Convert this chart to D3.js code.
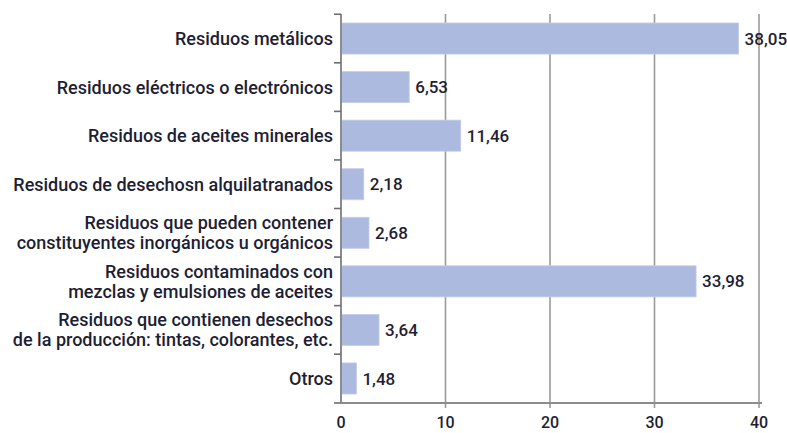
<!DOCTYPE html>
<html>
<head>
<meta charset="utf-8">
<script src="https://cdn.jsdelivr.net/npm/d3@7/dist/d3.min.js"></script>
<style>
  html, body { margin: 0; padding: 0; background: #ffffff; }
  svg { display: block; }
  text { font-family: Roboto, "Liberation Sans", sans-serif; font-weight: 500; fill: #1e1e34; }
</style>
</head>
<body>
<svg id="chart" width="787" height="433"></svg>
<script>
const categories = [
  ["Residuos metálicos"],
  ["Residuos eléctricos o electrónicos"],
  ["Residuos de aceites minerales"],
  ["Residuos de desechosn alquilatranados"],
  ["Residuos que pueden contener", "constituyentes inorgánicos u orgánicos"],
  ["Residuos contaminados con", "mezclas y emulsiones de aceites"],
  ["Residuos que contienen desechos", "de la producción: tintas, colorantes, etc."],
  ["Otros"]
];
const values = [38.05, 6.53, 11.46, 2.18, 2.68, 33.98, 3.64, 1.48];
const xTicks = [0, 10, 20, 30, 40];

const svg = d3.select("#chart");
const pLeft = 341, pRight = 759, pTop = 14, pBottom = 403;

const keys = categories.map((c, i) => i);
const x = d3.scaleLinear().domain([0, 40]).range([pLeft, pRight]);
const y = d3.scaleBand().domain(keys).range([pTop, pBottom]).paddingInner(0.36).paddingOuter(0.185);

const fmt = v => d3.format(".2f")(v).replace(".", ",");

// gridlines (with ticks extending below axis)
svg.append("g").selectAll("line").data(xTicks.filter(t => t > 0)).join("line")
  .attr("x1", d => x(d)).attr("x2", d => x(d))
  .attr("y1", pTop).attr("y2", pBottom + 5)
  .attr("stroke", "#9a9a9a").attr("stroke-width", 1.6);

// bars
svg.append("g").selectAll("rect").data(values).join("rect")
  .attr("x", x(0))
  .attr("y", (d, i) => y(i))
  .attr("width", d => x(d) - x(0))
  .attr("height", y.bandwidth())
  .attr("fill", "#adbadf")
  .attr("stroke", "#c4cdea").attr("stroke-width", 0.8);

// axes lines
svg.append("line").attr("x1", pLeft).attr("x2", pLeft).attr("y1", pTop).attr("y2", pBottom)
  .attr("stroke", "#8c8c8c").attr("stroke-width", 2);
svg.append("line").attr("x1", pLeft).attr("x2", pRight + 3).attr("y1", pBottom).attr("y2", pBottom)
  .attr("stroke", "#8c8c8c").attr("stroke-width", 2);

// category ticks at band boundaries
const step = y.step();
const bounds = keys.map(k => y(k) - step * y.paddingInner() / 2).concat([pBottom]);
svg.append("g").selectAll("line").data(bounds).join("line")
  .attr("x1", pLeft - 7).attr("x2", pLeft)
  .attr("y1", d => d).attr("y2", d => d)
  .attr("stroke", "#6e6e6e").attr("stroke-width", 1.6);

// category labels
const lab = svg.append("g").selectAll("text").data(categories).join("text")
  .attr("x", pLeft - 8)
  .attr("text-anchor", "end")
  .style("font-size", "18px");
lab.each(function(lines, i) {
  const cy = y(i) + y.bandwidth() / 2;
  const lh = 20;
  const t = d3.select(this);
  lines.forEach((ln, j) => {
    t.append("tspan").attr("x", pLeft - 8)
      .attr("y", cy + (j - (lines.length - 1) / 2) * lh)
      .attr("dy", "0.36em")
      .text(ln);
  });
});

// value labels
svg.append("g").selectAll("text").data(values).join("text")
  .attr("x", d => x(d) + 6)
  .attr("y", (d, i) => y(i) + y.bandwidth() / 2)
  .attr("dy", "0.36em")
  .style("font-size", "17px")
  .text(d => fmt(d));

// x tick labels
svg.append("g").selectAll("text").data(xTicks).join("text")
  .attr("x", d => x(d))
  .attr("y", 428)
  .attr("text-anchor", "middle")
  .style("font-size", "16px")
  .text(d => d);
</script>
</body>
</html>
